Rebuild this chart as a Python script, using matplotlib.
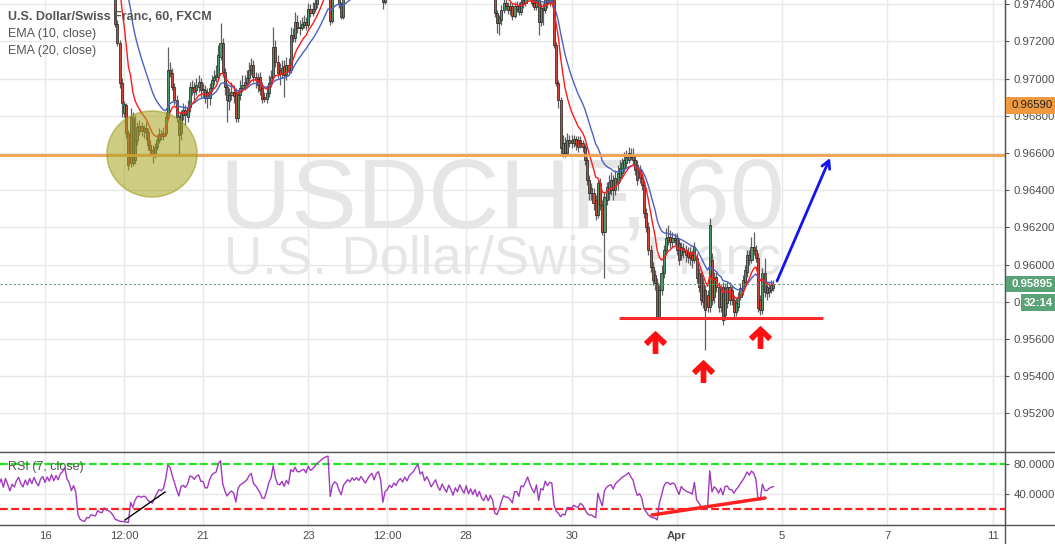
import numpy as np
import matplotlib
matplotlib.use('Agg')
import matplotlib.pyplot as plt
from matplotlib.path import Path
from matplotlib.patches import Ellipse, Rectangle
from matplotlib.lines import Line2D

plt.rcParams['font.family'] = ['Liberation Sans', 'DejaVu Sans']

# ---------------- data (prices in 1e-5 units, hourly candles) ----------------
FIRST_INDEX = -30   # candle index of first bar; index 0 = 16 Mar 00:00

OPEN_PTS = [
98790, 98780, 98800, 98770, 98790, 98810, 98790, 98800, 98780, 98800,
98790, 98810, 98785, 98820, 98800, 98775, 98800, 98790, 98815, 98830,
98810, 98800, 98825, 98810, 98835, 98820, 98845, 98830, 98820, 98845,
98855, 98840, 98860, 98850, 98875, 98860, 98880, 98870, 98895, 98905,
98925, 98900, 98890, 98865, 98880, 98860, 98600, 98300, 98020, 97880,
97920, 97870, 97900, 97850, 97820, 97860, 97800, 97780, 97810, 97760,
97740, 97700,
97600, 97294, 97191, 96976, 96815, 96858, 96708, 96546, 96788, 96562,
96670, 96724, 96745, 96718, 96734, 96713, 96643, 96616, 96589, 96632,
96670, 96702, 96691, 96708, 96794, 97046, 97030, 96955, 96885, 96777,
96708, 96804, 96831, 96794, 96847, 96955, 96955, 96939, 96955, 96982,
96944, 96939, 96928, 96896, 96949, 96992, 97009, 97009, 97116, 97191,
97035, 96955, 96880, 96912, 96928, 96923, 96788, 96912, 96949, 96966,
96976, 97003, 97046, 97073, 97009, 96998, 97009, 96949, 96901, 96890,
96923, 96976, 97009, 97170, 97089, 97046, 97025, 97068, 97019, 97073,
97046, 97234, 97218, 97304, 97277, 97272, 97288, 97304, 97288, 97374,
97353, 97374, 97401,
97449, 97480, 97520, 97560, 97600,
97620, 97310, 97450, 97500, 97480, 97400, 97330,
97440, 97480, 97520, 97500, 97550, 97530, 97560, 97540, 97580, 97560, 97540, 97570, 97600, 97620, 97590, 97640, 97660,
97620, 97412,
97500, 97520, 97560, 97540, 97580, 97560, 97600, 97620, 97600, 97640, 97620, 97660, 97680, 97700, 97740,
97780, 97740, 97760, 97720, 97750, 97730, 97700, 97720, 97740, 97710, 97690, 97720, 97700, 97680, 97710, 97690, 97660, 97690, 97670, 97700,
97680, 97660, 97690, 97650, 97670, 97640, 97660, 97620, 97640, 97600, 97580, 97600, 97560, 97580,
97550, 97353, 97299, 97315, 97369, 97406, 97369, 97390, 97390, 97337,
97374, 97390, 97358, 97423, 97406, 97433, 97465, 97433, 97406, 97385,
97423, 97304, 97380, 97369, 97439, 97406, 97433, 97433, 97180, 96976,
96885, 96600, 96654, 96600, 96654, 96670, 96654, 96675, 96670, 96670,
96654, 96632, 96562, 96455, 96412, 96385, 96347, 96267, 96439, 96320,
96175, 96347, 96385, 96401, 96455, 96401, 96439, 96471, 96492, 96519,
96546, 96562, 96594, 96589, 96562, 96535, 96509, 96466, 96428, 96277,
96202, 96079, 95987, 95944, 95901, 95718, 95863, 95955, 96079, 96132,
96148, 96122, 96143, 96143, 96116, 96052, 96089, 96079, 96068, 96068,
96052, 96025, 96036, 95955, 95944, 95901, 95863, 95837, 95772, 96025,
95826, 95933, 95880, 95772, 95880, 95729, 95794, 95880, 95863, 95810,
95745, 95772, 95826, 95863, 95906, 95960, 96052, 96025, 96095, 96079,
96036, 95810, 95756, 95955, 95880, 95853, 95863, 95874,
]

HIGH_PTS = [
98800, 98810, 98805, 98800, 98820, 98815, 98808, 98806, 98810, 98805,
98815, 98818, 98826, 98828, 98806, 98808, 98806, 98822, 98838, 98836,
98815, 98832, 98830, 98842, 98840, 98852, 98850, 98836, 98850, 98862,
98860, 98868, 98866, 98882, 98878, 98888, 98884, 98902, 98915, 98932,
98930, 98908, 98895, 98888, 98886, 98865, 98610, 98320, 98040, 97935,
97930, 97912, 97910, 97858, 97870, 97868, 97808, 97818, 97815, 97770,
97750, 97708,
97620, 97315, 97207, 97003, 96880, 96869, 96724, 96842, 96820, 96804,
96767, 96777, 96767, 96751, 96767, 96734, 96670, 96643, 96654, 96697,
96734, 96724, 96740, 96820, 97170, 97089, 97057, 96976, 96912, 96804,
96831, 96869, 96858, 96885, 96982, 96992, 96982, 97003, 97019, 97003,
96976, 96966, 96949, 96976, 97019, 97046, 97073, 97180, 97299, 97218,
97057, 96976, 96949, 96982, 96966, 96949, 96939, 96992, 97019, 97019,
97046, 97089, 97111, 97100, 97035, 97030, 97035, 96982, 96928, 96966,
97019, 97046, 97277, 97207, 97127, 97084, 97100, 97100, 97116, 97111,
97277, 97272, 97358, 97342, 97315, 97331, 97342, 97331, 97406, 97401,
97412, 97439, 97476,
97492, 97532, 97572, 97612, 97635,
97640, 97462, 97512, 97510, 97490, 97412, 97452,
97492, 97532, 97530, 97562, 97560, 97572, 97570, 97592, 97590, 97572, 97582, 97612, 97632, 97630, 97652, 97672, 97670,
97632, 97512,
97532, 97572, 97570, 97592, 97590, 97612, 97632, 97630, 97652, 97650, 97672, 97692, 97712, 97752, 97795,
97790, 97772, 97770, 97762, 97760, 97740, 97732, 97752, 97750, 97720, 97732, 97730, 97710, 97722, 97720, 97700, 97702, 97700, 97712, 97710,
97690, 97702, 97700, 97682, 97680, 97672, 97670, 97652, 97650, 97610, 97612, 97610, 97592, 97590,
97565, 97369, 97342, 97396, 97433, 97433, 97412, 97412, 97406, 97412,
97418, 97412, 97439, 97449, 97465, 97490, 97480, 97465, 97439, 97449,
97449, 97406, 97406, 97465, 97465, 97465, 97476, 97465, 97196, 96992,
96901, 96697, 96686, 96708, 96697, 96697, 96697, 96691, 96691, 96691,
96670, 96648, 96578, 96482, 96439, 96412, 96374, 96455, 96466, 96347,
96390, 96444, 96482, 96498, 96482, 96509, 96535, 96562, 96573, 96605,
96616, 96632, 96627, 96627, 96589, 96562, 96535, 96492, 96444, 96304,
96229, 96105, 96014, 95971, 95928, 95890, 95998, 96105, 96197, 96213,
96186, 96175, 96170, 96170, 96143, 96122, 96116, 96105, 96095, 96095,
96079, 96122, 96063, 95982, 95971, 95928, 95890, 95863, 96251, 96063,
95960, 95960, 95906, 95890, 95906, 95901, 95906, 95906, 95890, 95837,
95820, 95853, 95901, 95944, 95998, 96079, 96079, 96148, 96175, 96105,
96063, 95837, 95982, 96036, 95906, 95901, 95917, 95917,
]

LOW_PTS = [
98770, 98768, 98762, 98762, 98782, 98785, 98782, 98772, 98772, 98782,
98785, 98778, 98778, 98795, 98768, 98770, 98785, 98784, 98806, 98802,
98795, 98794, 98805, 98805, 98812, 98815, 98822, 98812, 98815, 98838,
98832, 98835, 98845, 98845, 98852, 98855, 98862, 98865, 98890, 98898,
98895, 98882, 98858, 98860, 98852, 98590, 98280, 97990, 97860, 97870,
97860, 97862, 97840, 97810, 97815, 97790, 97770, 97772, 97750, 97730,
97690, 97590,
97277, 97175, 96949, 96794, 96794, 96681, 96509, 96525, 96530, 96541,
96643, 96697, 96691, 96681, 96670, 96616, 96589, 96546, 96573, 96616,
96654, 96670, 96670, 96691, 96777, 97009, 96939, 96858, 96767, 96589,
96670, 96777, 96751, 96767, 96820, 96912, 96885, 96912, 96928, 96901,
96896, 96869, 96842, 96858, 96928, 96966, 96982, 96992, 97100, 97009,
96912, 96767, 96831, 96885, 96869, 96767, 96767, 96885, 96928, 96939,
96949, 96982, 97019, 96982, 96949, 96928, 96912, 96869, 96874, 96869,
96901, 96955, 96992, 97062, 97003, 96966, 97003, 96901, 96992, 97019,
97030, 97197, 97197, 97245, 97234, 97261, 97272, 97261, 97272, 97331,
97337, 97358, 97380,
97437, 97468, 97508, 97548, 97588,
97288, 97300, 97438, 97468, 97380, 97320, 97322,
97428, 97468, 97488, 97488, 97518, 97518, 97528, 97528, 97548, 97528, 97528, 97558, 97588, 97578, 97578, 97628, 97608,
97374, 97400,
97488, 97508, 97528, 97528, 97548, 97548, 97588, 97588, 97588, 97608, 97608, 97648, 97668, 97688, 97728,
97728, 97728, 97708, 97708, 97718, 97688, 97688, 97708, 97698, 97678, 97678, 97688, 97668, 97668, 97678, 97648, 97648, 97658, 97658, 97668,
97648, 97648, 97638, 97638, 97628, 97628, 97608, 97608, 97588, 97568, 97568, 97548, 97548, 97538,
97331, 97245, 97234, 97288, 97353, 97369, 97347, 97342, 97315, 97326,
97358, 97342, 97342, 97380, 97390, 97420, 97420, 97390, 97369, 97369,
97234, 97283, 97288, 97353, 97380, 97390, 97396, 97164, 96960, 96842,
96589, 96578, 96578, 96584, 96632, 96627, 96632, 96616, 96605, 96627,
96605, 96535, 96428, 96347, 96347, 96294, 96240, 96251, 96294, 96159,
95928, 96320, 96347, 96374, 96347, 96374, 96401, 96444, 96466, 96498,
96525, 96546, 96562, 96535, 96482, 96428, 96439, 96401, 96251, 96175,
96052, 95960, 95890, 95863, 95713, 95713, 95837, 95928, 96052, 96105,
96089, 96095, 96105, 96052, 95998, 96025, 96036, 96014, 96009, 95998,
95982, 96009, 95901, 95853, 95783, 95767, 95541, 95745, 95745, 95783,
95794, 95853, 95745, 95745, 95675, 95702, 95767, 95783, 95783, 95718,
95724, 95751, 95810, 95837, 95880, 95933, 95998, 96009, 96052, 96014,
95745, 95729, 95735, 95826, 95810, 95826, 95847, 95858,
]

CLOSE_PTS = [
98780, 98800, 98770, 98790, 98810, 98790, 98800, 98780, 98800, 98790,
98810, 98785, 98820, 98800, 98775, 98800, 98790, 98815, 98830, 98810,
98800, 98825, 98810, 98835, 98820, 98845, 98830, 98820, 98845, 98855,
98840, 98860, 98850, 98875, 98860, 98880, 98870, 98895, 98905, 98925,
98900, 98890, 98865, 98880, 98860, 98600, 98300, 98020, 97880, 97920,
97870, 97900, 97850, 97820, 97860, 97800, 97780, 97810, 97760, 97740,
97700, 97600,
97294, 97191, 96976, 96869, 96864, 96708, 96535, 96794, 96546, 96670,
96740, 96745, 96718, 96734, 96713, 96643, 96616, 96589, 96632, 96670,
96702, 96691, 96708, 96794, 97046, 97030, 96955, 96885, 96794, 96697,
96815, 96831, 96804, 96847, 96955, 96950, 96928, 96966, 96982, 96939,
96939, 96896, 96896, 96949, 96992, 97009, 97019, 97127, 97191, 97035,
96955, 96885, 96912, 96928, 96906, 96788, 96912, 96949, 96966, 96982,
97003, 97046, 97073, 97009, 96992, 96966, 96939, 96890, 96890, 96923,
96976, 97009, 97170, 97089, 97030, 97025, 97057, 97019, 97073, 97046,
97234, 97218, 97304, 97272, 97272, 97294, 97304, 97288, 97374, 97353,
97374, 97406, 97449,
97480, 97520, 97560, 97600, 97620,
97310, 97450, 97500, 97480, 97400, 97330, 97440,
97480, 97520, 97500, 97550, 97530, 97560, 97540, 97580, 97560, 97540, 97570, 97600, 97620, 97590, 97640, 97660, 97620,
97412, 97500,
97520, 97560, 97540, 97580, 97560, 97600, 97620, 97600, 97640, 97620, 97660, 97680, 97700, 97740, 97780,
97740, 97760, 97720, 97750, 97730, 97700, 97720, 97740, 97710, 97690, 97720, 97700, 97680, 97710, 97690, 97660, 97690, 97670, 97700, 97680,
97660, 97690, 97650, 97670, 97640, 97660, 97620, 97640, 97600, 97580, 97600, 97560, 97580, 97550,
97353, 97299, 97326, 97369, 97406, 97390, 97390, 97369, 97337, 97390,
97390, 97358, 97412, 97406, 97433, 97465, 97433, 97406, 97385, 97423,
97304, 97380, 97369, 97439, 97406, 97433, 97428, 97180, 96976, 96885,
96627, 96654, 96600, 96670, 96670, 96654, 96675, 96643, 96632, 96654,
96632, 96562, 96455, 96385, 96385, 96331, 96267, 96439, 96320, 96175,
96363, 96417, 96444, 96455, 96401, 96466, 96492, 96519, 96546, 96562,
96578, 96600, 96578, 96562, 96509, 96455, 96466, 96428, 96277, 96202,
96079, 95987, 95917, 95901, 95718, 95863, 95955, 96079, 96143, 96148,
96122, 96143, 96132, 96079, 96025, 96095, 96068, 96052, 96041, 96036,
96025, 96095, 95928, 95880, 95810, 95799, 95756, 95772, 96213, 95810,
95928, 95880, 95772, 95863, 95702, 95874, 95880, 95810, 95810, 95745,
95794, 95826, 95874, 95917, 95971, 96052, 96025, 96095, 96079, 96036,
95767, 95756, 95955, 95853, 95847, 95874, 95890, 95895,
]

TICK_POS = [0, 36, 72, 120, 156, 192, 240, 288, 336, 384, 432]
TICK_LABELS = ['16', '12:00', '21', '23', '12:00', '28', '30', 'Apr', '5', '7', '11']
PRICE_TICKS = [0.952, 0.954, 0.956, 0.958, 0.960, 0.962, 0.964, 0.966, 0.968, 0.970, 0.972, 0.974]
RSI_TICKS = [40, 80]
RSI_UPPER, RSI_LOWER = 80, 20
LAST_PRICE = 0.95895
HLINE_LEVEL = 0.96590
SUPPORT_LEVEL = 0.95713
COUNTDOWN = '32:14'

# ---------------- prepare ----------------
o = np.array(OPEN_PTS) / 1e5
h = np.array(HIGH_PTS) / 1e5
l = np.array(LOW_PTS) / 1e5
c = np.array(CLOSE_PTS) / 1e5
assert len(o) == len(h) == len(l) == len(c), (len(o), len(h), len(l), len(c))
idx = np.arange(FIRST_INDEX, FIRST_INDEX + len(c))


def ema(x, n):
    a = 2.0 / (n + 1)
    out = np.empty_like(x)
    out[0] = x[0]
    for k in range(1, len(x)):
        out[k] = a * x[k] + (1 - a) * out[k - 1]
    return out


def rsi(x, n):
    d = np.diff(x)
    g = np.clip(d, 0, None)
    s = np.clip(-d, 0, None)
    out = np.full(len(x), np.nan)
    ag, al = g[:n].mean(), s[:n].mean()
    out[n] = 100 - 100 / (1 + ag / al) if al > 0 else 100
    for k in range(n, len(d)):
        ag = (ag * (n - 1) + g[k]) / n
        al = (al * (n - 1) + s[k]) / n
        out[k + 1] = 100 - 100 / (1 + ag / al) if al > 0 else 100
    return out


ema10 = ema(c, 10)
ema20 = ema(c, 20)
rsi7 = rsi(c, 7)

# ---------------- figure ----------------
W, H = 1055, 544
fig = plt.figure(figsize=(W / 100, H / 100), dpi=100)
fig.patch.set_facecolor('white')
AX_R = 1005
ax = fig.add_axes([0, (H - 452) / H, AX_R / W, 452 / H])
rx = fig.add_axes([0, (H - 525) / H, AX_R / W, 73 / H], sharex=ax)

XL = ((0 - 45) / 2.194, (AX_R - 45) / 2.194)
ax.set_xlim(*XL)
ax.set_ylim(0.966 - 299 / 18600, 0.966 + 153 / 18600)
rx.set_ylim(20 - 16 / 0.75, 20 + 57 / 0.75)

GRID = '#e8e8e8'
TXT = '#4d4d4d'
SPINE = '#555555'

for a in (ax, rx):
    a.set_facecolor('white')
    for s in ('top', 'left'):
        a.spines[s].set_visible(False)
    a.spines['right'].set_color(SPINE)
    a.spines['bottom'].set_color(SPINE)
    a.set_axisbelow(True)
    for xt in TICK_POS:
        a.axvline(xt, color=GRID, lw=1, zorder=0)

for pt in PRICE_TICKS:
    ax.axhline(pt, color=GRID, lw=1, zorder=0)
rx.axhline(40, color=GRID, lw=1, zorder=0)

# watermark
ax.text(502 / AX_R, 1 - 228 / 452, 'USDCHF, 60', transform=ax.transAxes, ha='center',
        va='baseline', fontsize=71, color='#e6e6e6', zorder=1)
ax.text(503 / AX_R, 1 - 273 / 452, 'U.S. Dollar/Swiss Franc', transform=ax.transAxes,
        ha='center', va='baseline', fontsize=38, color='#e6e6e6', zorder=1)

# candles
up = c >= o
cols = np.where(up, '#4a9a6a', '#d04535')
ax.vlines(idx, l, h, color='#606060', lw=0.9, zorder=3)
ax.bar(idx, np.maximum(np.abs(c - o), 0.00004), bottom=np.minimum(o, c), width=0.95,
       color=cols, edgecolor='#2a2a2a', linewidth=0.55, zorder=4)

# EMAs
ax.plot(idx, ema20, color='#4a62c4', lw=1, zorder=5)
ax.plot(idx, ema10, color='#ff1a1a', lw=1, zorder=5)

# horizontal levels
ax.axhline(HLINE_LEVEL, color='#f0a050', lw=2, zorder=5)
ax.axhline(LAST_PRICE, color='#5aa277', lw=0.8, ls=(0, (2, 2)), zorder=5)
ax.plot([(619 - 45) / 2.194, (823 - 45) / 2.194], [SUPPORT_LEVEL] * 2, color='#ff2b2b',
        lw=2.2, zorder=6, solid_capstyle='butt')

# circle highlight
ax.add_patch(Ellipse(((152 - 45) / 2.194, 0.966 - 1 / 18600), 90 / 2.194, 86 / 18600,
                     facecolor='#a8a520', alpha=0.55, edgecolor='#9c9a1a', lw=1.2, zorder=6))

# blue projection arrow
ax.annotate('', xy=((830 - 45) / 2.194, 0.966 - 5 / 18600),
            xytext=((777 - 45) / 2.194, 0.966 - 128 / 18600),
            arrowprops=dict(arrowstyle='->,head_length=0.55,head_width=0.3', color='#1414f0',
                            lw=2, shrinkA=0, shrinkB=0), zorder=7)

# red up arrows
arrow_path = Path([(0, 1), (1, 0.05), (0.7, -0.25), (0.2, 0.3), (0.2, -1), (-0.2, -1),
                   (-0.2, 0.3), (-0.7, -0.25), (-1, 0.05), (0, 1)], closed=True)
for (xp, yp) in [(655, 342), (703, 371), (760, 337)]:
    ax.plot([(xp - 45) / 2.194], [0.966 - (yp - 153) / 18600], marker=arrow_path,
            markersize=15.5, color='#ff1010', mec='#ff1010', zorder=7, clip_on=False)

# RSI
rx.plot(idx, rsi7, color='#a23ac0', lw=1, zorder=4)
rx.axhline(RSI_UPPER, color='#1ee81e', lw=1.6, ls=(0, (3.5, 1.5)), zorder=3)
rx.axhline(RSI_LOWER, color='#ff2020', lw=1.6, ls=(0, (3.5, 1.5)), zorder=3)
rx.plot([(125 - 45) / 2.194, (165 - 45) / 2.194], [20 - 11 / 0.75, 20 + 17 / 0.75],
        color='black', lw=1, zorder=5)
rx.plot([(652 - 45) / 2.194, (765 - 45) / 2.194], [20 - 6 / 0.75, 20 + 11 / 0.75],
        color='#ff2020', lw=2.5, zorder=5, solid_capstyle='round')

# axes ticks
ax.yaxis.tick_right()
ax.set_yticks(PRICE_TICKS)
ax.set_yticklabels([f'{p:.5f}' for p in PRICE_TICKS])
ax.tick_params(axis='y', length=3, color=SPINE, labelsize=8.2, labelcolor=TXT, pad=3)
ax.tick_params(axis='x', length=0, labelbottom=False)
rx.yaxis.tick_right()
rx.set_yticks(RSI_TICKS)
rx.set_yticklabels([f'{v:.4f}' for v in RSI_TICKS])
rx.tick_params(axis='y', length=3, color=SPINE, labelsize=8.2, labelcolor=TXT, pad=3)
rx.set_xticks(TICK_POS)
rx.set_xticklabels(TICK_LABELS)
rx.tick_params(axis='x', length=0, labelsize=8.2, labelcolor=TXT, pad=4)
for lab in rx.get_xticklabels():
    if lab.get_text() == 'Apr':
        lab.set_fontweight('bold')
ax.set_xlim(*XL)

# figure level lines (spines extended)
fig.add_artist(Line2D([AX_R / W] * 2, [0, 1], color=SPINE, lw=1))
fig.add_artist(Line2D([0, 1], [1 - 452 / H] * 2, color=SPINE, lw=1))
fig.add_artist(Line2D([0, 1], [1 - 525 / H] * 2, color=SPINE, lw=1))

# price labels on the right
def box(x0, y0, x1, y1, fc):
    fig.add_artist(Rectangle((x0 / W, 1 - y1 / H), (x1 - x0) / W, (y1 - y0) / H,
                             transform=fig.transFigure, facecolor=fc, edgecolor='none',
                             zorder=10))

box(1006, 97, W, 114, '#ef9a3f')
fig.text(1012 / W, 1 - 105.5 / H, f'{HLINE_LEVEL:.5f}', ha='left', va='center',
         fontsize=8.2, color='#222222', zorder=11)
box(1006, 276, W, 292, '#5aa277')
fig.text(1012 / W, 1 - 284 / H, f'{LAST_PRICE:.5f}', ha='left', va='center',
         fontsize=8.2, color='white', fontweight='bold', zorder=11)
box(1021, 294, W, 311, '#5aa277')
fig.text(1024 / W, 1 - 302.5 / H, COUNTDOWN, ha='left', va='center',
         fontsize=8.2, color='white', fontweight='bold', zorder=11)

# legend texts
fig.text(8 / W, 1 - 17 / H, 'U.S. Dollar/Swiss Franc, 60, FXCM', ha='left', va='center',
         fontsize=9, fontweight='bold', color='#555555')
fig.text(8 / W, 1 - 34 / H, 'EMA (10, close)', ha='left', va='center', fontsize=9,
         color='#555555')
fig.text(8 / W, 1 - 51 / H, 'EMA (20, close)', ha='left', va='center', fontsize=9,
         color='#555555')
fig.text(8 / W, 1 - 467 / H, 'RSI (7, close)', ha='left', va='center', fontsize=9,
         color='#555555')

fig.savefig('out.png', dpi=100)
